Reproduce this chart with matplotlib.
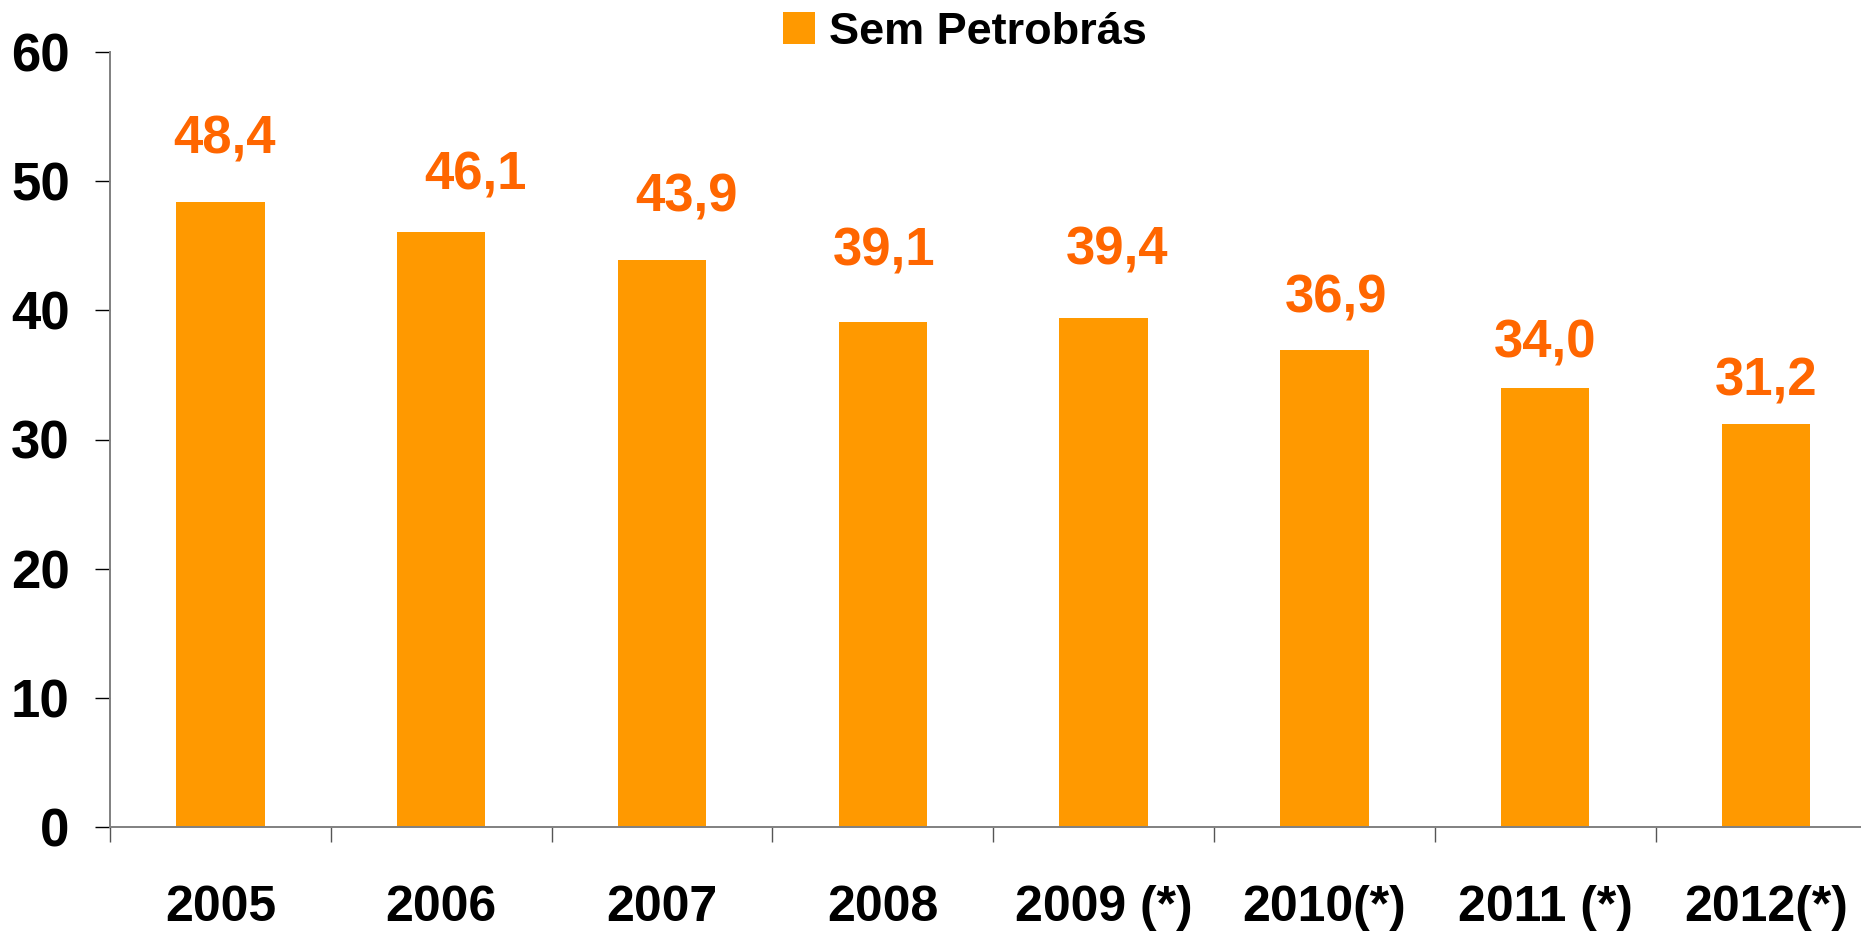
import matplotlib
matplotlib.use('Agg')
import matplotlib.pyplot as plt
import numpy as np

# Data
anos = ['2005', '2006', '2007', '2008', '2009 (*)', '2010(*)', '2011 (*)', '2012(*)']
sem_petrobras = [48.4, 46.1, 43.9, 39.1, 39.4, 36.9, 34.0, 31.2]
rotulos = ['48,4', '46,1', '43,9', '39,1', '39,4', '36,9', '34,0', '31,2']

# label nudges (pixels) - labels in the original are not placed uniformly
dx = [4, 34, 24, 1, 13, 12, 0, 0]
dy = [62, 56, 62, 70, 68, 52, 44, 43]

plt.rcParams['font.family'] = ['Liberation Sans', 'DejaVu Sans']
plt.rcParams['font.weight'] = 'bold'

fig = plt.figure(figsize=(18.61, 9.33), dpi=100)
ax = fig.add_axes([110/1861, 1 - 827/933, 8*220.8/1861, (827-52)/933])

x = np.arange(len(anos))
bars = ax.bar(x, sem_petrobras, width=0.40, color='#FF9900', label='Sem Petrobrás', zorder=2)

for i in range(len(x)):
    ax.annotate(rotulos[i], (x[i], sem_petrobras[i]), xytext=(dx[i], dy[i]),
                textcoords='offset pixels', ha='center', va='center',
                fontsize=38, fontweight='bold', color='#FF6600')

ax.set_xlim(-0.5, len(anos) - 0.5)
ax.set_ylim(0, 60)
ax.set_yticks(range(0, 61, 10))
ax.tick_params(axis='y', labelsize=38, length=11, width=1, pad=18, colors='#000000')

# major ticks on category boundaries, labels on the centres
ax.set_xticks(np.arange(-0.5, len(anos), 1.0))
ax.set_xticklabels([])
ax.set_xticks(x, minor=True)
ax.set_xticklabels(anos, minor=True, fontsize=36, fontweight='bold')
ax.tick_params(axis='x', which='major', length=11, width=1, color='#555555')
ax.tick_params(axis='x', which='minor', length=0, pad=42)

for lbl in ax.get_yticklabels():
    lbl.set_fontweight('bold')

for s in ['top', 'right']:
    ax.spines[s].set_visible(False)
for s in ['left', 'bottom']:
    ax.spines[s].set_color('#808080')
    ax.spines[s].set_linewidth(1.4)

fig.legend(handles=[bars], labels=['Sem Petrobrás'], loc='center',
           bbox_to_anchor=(965/1861, 1 - 32/933), frameon=False,
           prop={'weight': 'bold', 'size': 32.5},
           handlelength=0.7, handleheight=0.7, handletextpad=0.3,
           borderpad=0, borderaxespad=0)

plt.savefig('out.png', dpi=100)
